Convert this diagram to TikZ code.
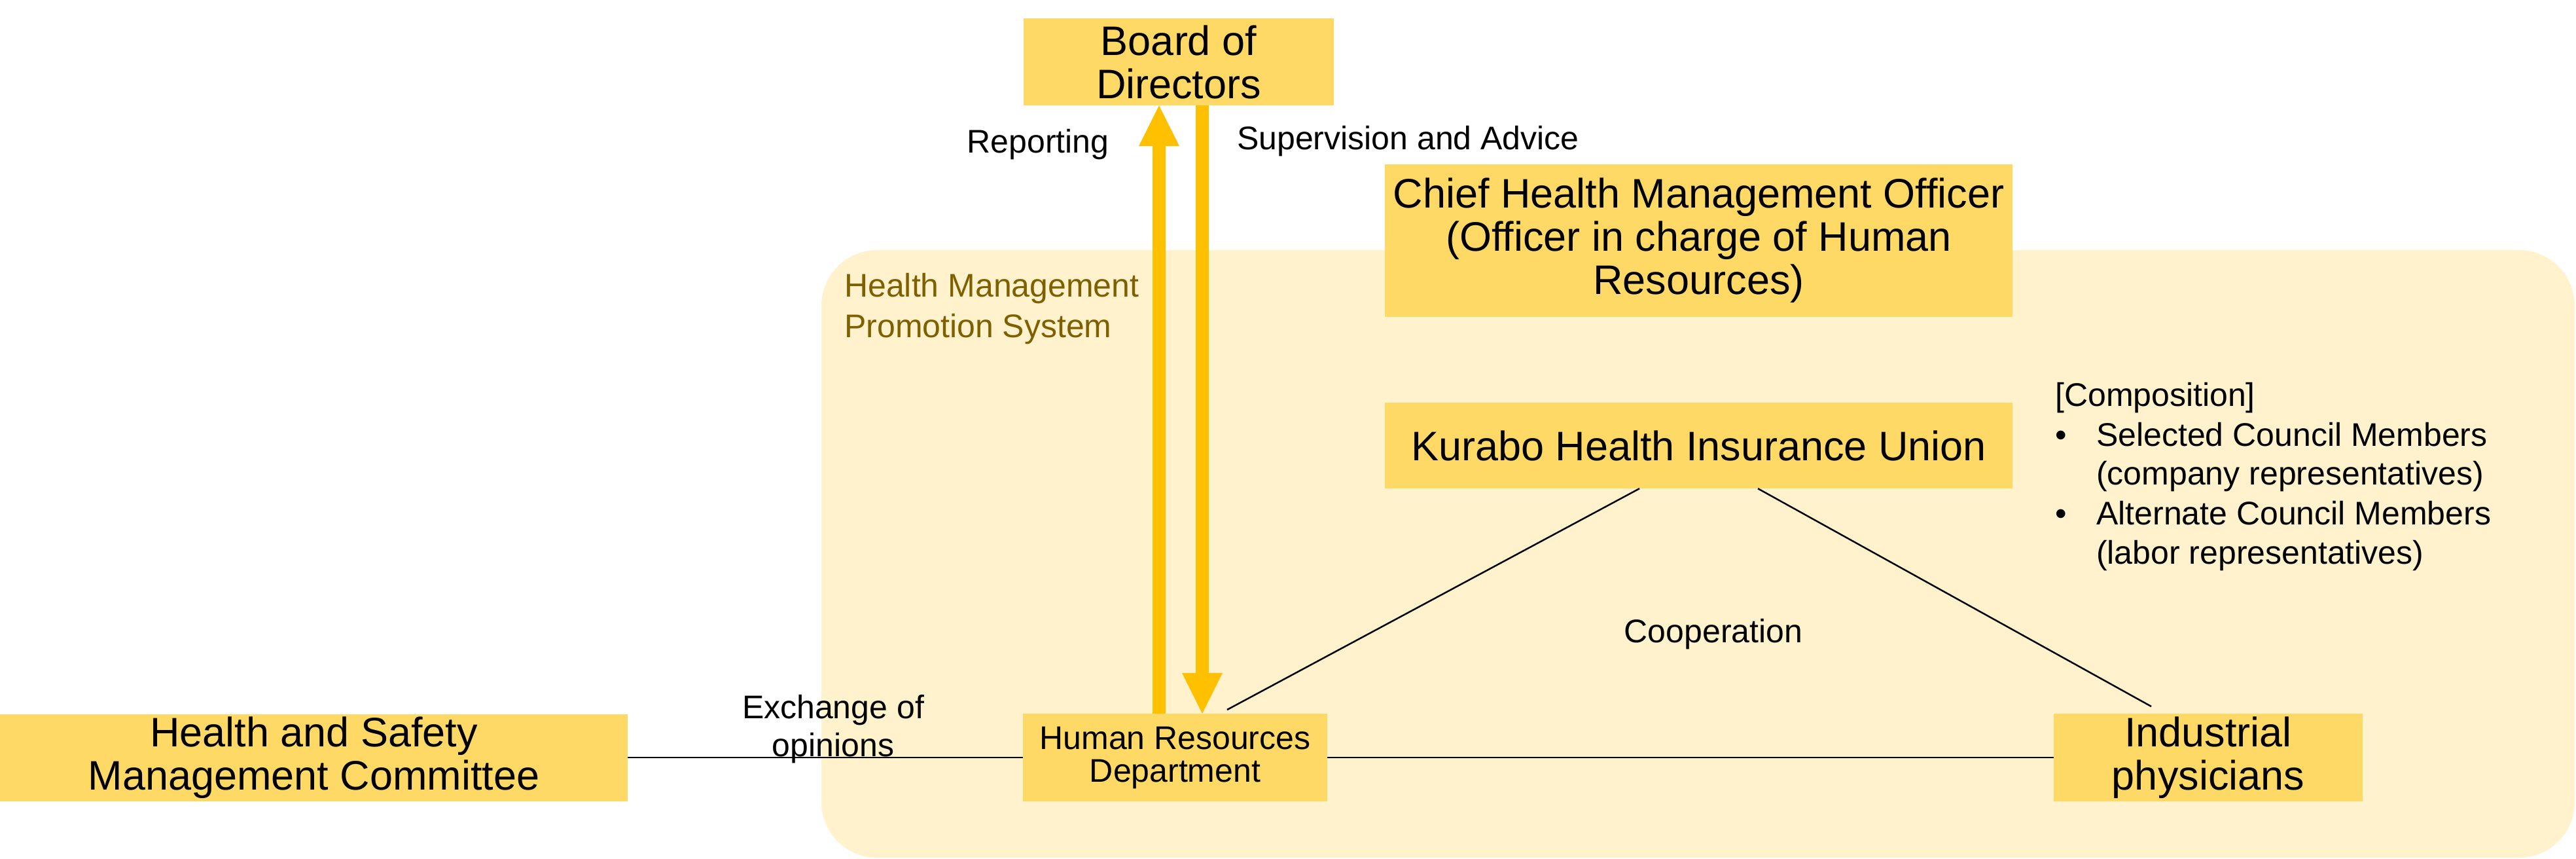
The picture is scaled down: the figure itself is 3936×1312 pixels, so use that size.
\documentclass[tikz,border=0pt]{standalone}
\usepackage{fontspec}
\setmainfont{Liberation Sans}
\usetikzlibrary{arrows.meta}
\definecolor{boxfill}{HTML}{FFD966}
\definecolor{bgfill}{HTML}{FFF2CC}
\definecolor{arrowc}{HTML}{FFC000}
\definecolor{labelc}{HTML}{7F6000}
\begin{document}
\begin{tikzpicture}[x=1pt,y=-1pt,
 box/.style={fill=boxfill, inner sep=0pt, align=center, font=\fontsize{63}{66}\selectfont},
 smallbox/.style={box, font=\fontsize{50}{50}\selectfont},
 lbl/.style={inner sep=0pt, font=\fontsize{50}{60}\selectfont},
 conn/.style={draw=black, line width=2.5pt},
 bigarrow/.style={draw=arrowc, line width=20pt, -{Triangle[width=62pt,length=62pt,line width=0pt]}}
]
\useasboundingbox (0,0) rectangle (3936,1312);
\fill[bgfill, rounded corners=85pt] (1255,382) rectangle (3934,1310);

\node[box, minimum width=474pt, minimum height=133pt] (board) at (1801,94.5) {Board of\\Directors};
\node[box, minimum width=959pt, minimum height=233pt] (chief) at (2595.5,367.5) {Chief Health Management Officer\\(Officer in charge of Human\\Resources)};
\node[box, minimum width=959pt, minimum height=131pt] (kurabo) at (2595.5,680.5) {Kurabo Health Insurance Union};
\node[smallbox, minimum width=465pt, minimum height=134pt] (hr) at (1795.5,1157) {Human Resources\\Department};
\node[box, minimum width=472pt, minimum height=134pt] (ind) at (3374,1157) {Industrial\\physicians};
\node[box, minimum width=959pt, minimum height=133pt] (hs) at (479.5,1157) {Health and Safety\\Management Committee};

\coordinate (ux) at (1771,0);
\coordinate (dx) at (1837,0);
\draw[bigarrow] (hr.north -| ux) -- (board.south -| ux);
\draw[bigarrow] (board.south -| dx) -- (hr.north -| dx);

\coordinate (k1) at (2505,0);
\coordinate (k2) at (2686,0);
\coordinate (h1) at (1875,1084);
\coordinate (i1) at (3287,1079);
\draw[conn] (kurabo.south -| k1) -- (h1);
\draw[conn] (kurabo.south -| k2) -- (i1);
\draw[conn] (hs.east) -- (hr.west);
\draw[conn] (hr.east) -- (ind.west);

\node[lbl, anchor=base] (rep) at (1586,233) {Reporting};
\node[lbl, anchor=base west] (sup) at (1890,228) {Supervision and Advice};
\node[lbl, anchor=base west, text=labelc] (hmps1) at (1290,453) {Health Management};
\node[lbl, anchor=base west, text=labelc] (hmps2) at (1290,515) {Promotion System};
\node[lbl, anchor=base] (coop) at (2618,981) {Cooperation};
\node[lbl, anchor=base] (ex1) at (1273,1097) {Exchange of};
\node[lbl, anchor=base] (ex2) at (1273,1155) {opinions};

\node[lbl, anchor=base west] (comp) at (3140,620) {[Composition]};
\node[lbl, anchor=base west] (b1) at (3140,681) {•};
\node[lbl, anchor=base west] (c1) at (3203,681) {Selected Council Members};
\node[lbl, anchor=base west] (c2) at (3203,740) {(company representatives)};
\node[lbl, anchor=base west] (b2) at (3140,801) {•};
\node[lbl, anchor=base west] (c3) at (3203,801) {Alternate Council Members};
\node[lbl, anchor=base west] (c4) at (3203,861) {(labor representatives)};
\end{tikzpicture}
\end{document}
